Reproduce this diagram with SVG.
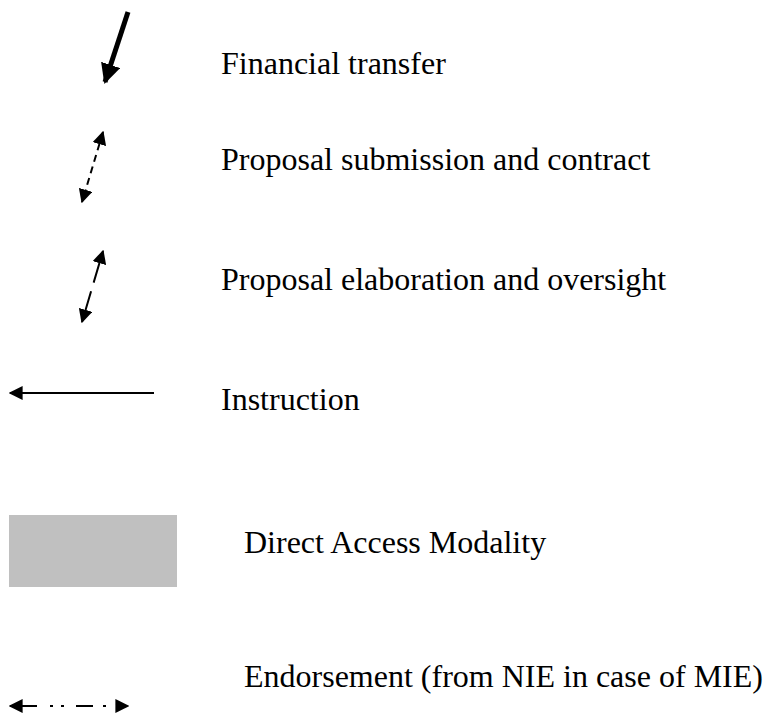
<svg xmlns="http://www.w3.org/2000/svg" width="766" height="715" viewBox="0 0 766 715">
<style>
text{font-family:"Liberation Serif","Times New Roman",serif;font-size:32px;fill:#000}
.ln{stroke:#000;fill:none}
</style>
<defs>
<marker id="ah" viewBox="0 0 10 10" refX="9" refY="5" markerWidth="4" markerHeight="4" orient="auto-start-reverse" markerUnits="strokeWidth"><path d="M0,0 L10,5 L0,10 z" fill="#000"/></marker>
<marker id="ahs" viewBox="0 0 10 10" refX="9" refY="5" markerWidth="7" markerHeight="7" orient="auto-start-reverse" markerUnits="strokeWidth"><path d="M0,0 L10,5 L0,10 z" fill="#000"/></marker>
</defs>
<rect width="766" height="715" fill="#fff"/>
<g id="connectors">
<line class="ln" x1="128" y1="12" x2="105" y2="82" stroke-width="5" marker-end="url(#ah)"/>
<line class="ln" x1="103" y1="132" x2="82" y2="202" stroke-width="2" stroke-dasharray="7,5" marker-start="url(#ahs)" marker-end="url(#ahs)"/>
<line class="ln" x1="103" y1="251" x2="82" y2="322" stroke-width="2" stroke-dasharray="33,9,40" marker-start="url(#ahs)" marker-end="url(#ahs)"/>
<line class="ln" x1="154" y1="393" x2="10" y2="393" stroke-width="2" marker-end="url(#ahs)"/>
<line class="ln" x1="10" y1="706" x2="128" y2="706" stroke-width="2" stroke-dasharray="27,13,3,8,3,12,17,10,3,30" marker-start="url(#ahs)" marker-end="url(#ahs)"/>
</g>
<g id="legend-financial"><text x="221" y="74">Financial transfer</text></g>
<g id="legend-submission"><text x="221" y="170">Proposal submission and contract</text></g>
<g id="legend-elaboration"><text x="221" y="290">Proposal elaboration and oversight</text></g>
<g id="legend-instruction"><text x="221" y="410">Instruction</text></g>
<g id="legend-direct"><rect x="9" y="515" width="168" height="72" fill="#c0c0c0"/><text x="244" y="553">Direct Access Modality</text></g>
<g id="legend-endorsement"><text x="244" y="687">Endorsement (from NIE in case of MIE)</text></g>
</svg>
